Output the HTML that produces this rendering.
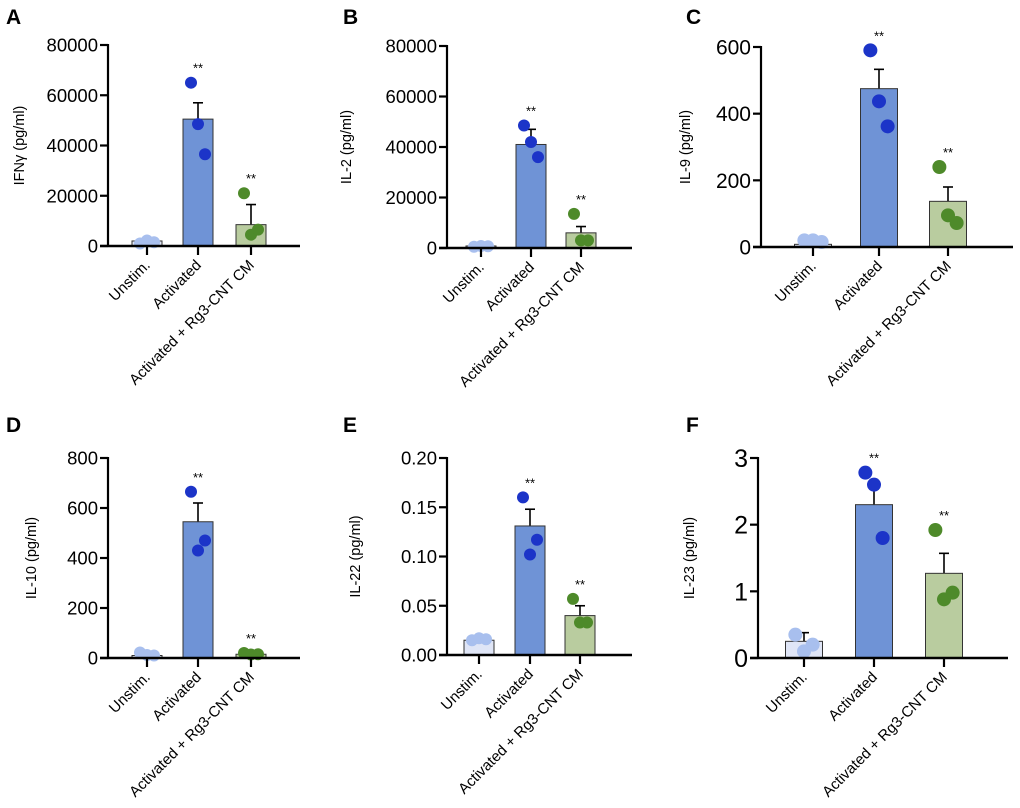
<!DOCTYPE html>
<html><head><meta charset="utf-8">
<style>
html,body{margin:0;padding:0;background:#fff;}
svg{display:block;font-family:"Liberation Sans",Arial,sans-serif;}
</style></head>
<body>
<svg id="fig" width="1020" height="808" viewBox="0 0 1020 808" xmlns="http://www.w3.org/2000/svg"></svg>
<script>
// ---- data ----
const categories = ["Unstim.", "Activated", "Activated + Rg3-CNT CM"];
const panelLetters = ["A","B","C","D","E","F"];
const yTitles = ["IFNγ (pg/ml)","IL-2 (pg/ml)","IL-9 (pg/ml)","IL-10 (pg/ml)","IL-22 (pg/ml)","IL-23 (pg/ml)"];
const yMax = [80000, 80000, 600, 800, 0.20, 3];
const tickValues = [
  [0,20000,40000,60000,80000],
  [0,20000,40000,60000,80000],
  [0,200,400,600],
  [0,200,400,600,800],
  [0,0.05,0.10,0.15,0.20],
  [0,1,2,3]
];
const tickLabels = [
  ["0","20000","40000","60000","80000"],
  ["0","20000","40000","60000","80000"],
  ["0","200","400","600"],
  ["0","200","400","600","800"],
  ["0.00","0.05","0.10","0.15","0.20"],
  ["0","1","2","3"]
];
const means = [
  [2000, 50500, 8500],
  [800, 41000, 6000],
  [8, 475, 137],
  [10, 545, 15],
  [0.015, 0.131, 0.040],
  [0.25, 2.30, 1.27]
];
const sems = [
  [300, 6500, 8000],
  [200, 6000, 2500],
  [2, 58, 43],
  [3, 75, 4],
  [0.001, 0.017, 0.010],
  [0.13, 0.25, 0.30]
];
const points = [
  [[1000,2200,1500],[65000,48500,36500],[21000,4500,6500]],
  [[500,800,700],[48500,42000,36000],[13500,3000,3000]],
  [[20,20,15],[590,437,362],[240,95,72]],
  [[22,12,10],[665,430,470],[20,14,15]],
  [[0.015,0.017,0.016],[0.160,0.102,0.117],[0.057,0.033,0.033]],
  [[0.35,0.10,0.20],[2.78,2.60,1.80],[1.92,0.88,0.98]]
];
const significance = [
  ["", "**", "**"],["", "**", "**"],["", "**", "**"],
  ["", "**", "**"],["", "**", "**"],["", "**", "**"]
];

// ---- layout (pixels) ----
const layout = [
  {ax:108, y0:246, yt:45, bars:[147,198,251], bw:30, xe:300, lx:6, ly:24, tf:18.5, tx:20},
  {ax:447, y0:248, yt:46, bars:[481,531,581], bw:30, xe:632, lx:343, ly:24, tf:18.5, tx:347},
  {ax:761, y0:247, yt:47, bars:[813,879,948], bw:37, xe:1013, lx:686, ly:24, tf:21, tx:686},
  {ax:108, y0:658, yt:458, bars:[147,198,251], bw:30, xe:300, lx:6, ly:432, tf:18.5, tx:32},
  {ax:447, y0:655, yt:458, bars:[479,530,580], bw:30, xe:632, lx:343, ly:432, tf:18.5, tx:356},
  {ax:758, y0:658, yt:458, bars:[804,874,944], bw:37, xe:1008, lx:686, ly:432, tf:25, tx:690}
];
const barFill = ["#dfe5f6","#6f93d6","#b9cc9f"];
const dotFill = ["#a8bfee","#1c34c8","#4e8a2a"];
const jitter = [-7, 0, 7];
const names = ["unstim","activated","rg3-cnt-cm"];

const NS = "http://www.w3.org/2000/svg";
const svg = document.getElementById("fig");
function mk(tag, attrs, parent){
  const e = document.createElementNS(NS, tag);
  for (const k in attrs) e.setAttribute(k, attrs[k]);
  (parent||svg).appendChild(e);
  return e;
}

for (let p=0; p<6; p++){
  const L = layout[p];
  const g = mk("g", {});
  
  
  const yScale = v => L.y0 - (v / yMax[p]) * (L.y0 - L.yt);

  const letter = mk("text", {x:L.lx, y:L.ly, "font-size":21, "font-weight":"bold", fill:"#000"}, g);
  letter.textContent = panelLetters[p];
  
  

  for (let c=0; c<3; c++){
    const cx = L.bars[c];
    const m = means[p][c], s = sems[p][c];
    const ytop = yScale(m);
    const eb = mk("line", {x1:cx, x2:cx, y1:ytop, y2:yScale(m+s), stroke:"#000", "stroke-width":1.6}, g);
    
    
    const cap = mk("line", {x1:cx-5, x2:cx+5, y1:yScale(m+s), y2:yScale(m+s), stroke:"#000", "stroke-width":1.6}, g);
    
    
    const bar = mk("rect", {x:cx-L.bw/2, y:ytop, width:L.bw, height:Math.max(0.5, L.y0-ytop), fill:barFill[c], stroke:"#333", "stroke-width":1}, g);
    
    
    for (let k=0; k<3; k++){
      const dot = mk("circle", {cx:cx+jitter[k]*(L.bw/30), cy:yScale(points[p][c][k]), r:L.bw>32?7:6, fill:dotFill[c]}, g);
      
      
    }
    if (significance[p][c]){
      const maxv = Math.max(m+s, ...points[p][c]);
      const st = mk("text", {x:cx, y:yScale(maxv)-10, "font-size":13, "text-anchor":"middle", fill:"#000"}, g);
      st.textContent = significance[p][c];
      
      
    }
    const xt = mk("line", {x1:cx, x2:cx, y1:L.y0, y2:L.y0+9, stroke:"#000", "stroke-width":2.2}, g);
    
    
    const ax = cx+4, ay = L.y0+20;
    const xl = mk("text", {x:ax, y:ay, "font-size":15, "text-anchor":"end", fill:"#000",
      transform:"rotate(-45 "+ax+" "+ay+")"}, g);
    xl.textContent = categories[c];
    
    
  }

  const ya = mk("line", {x1:L.ax, x2:L.ax, y1:L.yt-1, y2:L.y0+1, stroke:"#000", "stroke-width":2.2}, g);
  
  
  const xa = mk("line", {x1:L.ax-8, x2:L.xe, y1:L.y0, y2:L.y0, stroke:"#000", "stroke-width":2.4}, g);
  
  
  for (let t=0; t<tickValues[p].length; t++){
    const ty = yScale(tickValues[p][t]);
    const tk = mk("line", {x1:L.ax-8, x2:L.ax, y1:ty, y2:ty, stroke:"#000", "stroke-width":2.2}, g);
    
    
    const tl = mk("text", {x:L.ax-10, y:ty+L.tf*0.36, "font-size":L.tf, "text-anchor":"end", fill:"#000"}, g);
    tl.textContent = tickLabels[p][t];
    
    
  }
  const my = (L.y0+L.yt)/2;
  const yt = mk("text", {x:L.tx, y:my, "font-size":14.5, "text-anchor":"middle", fill:"#000",
    transform:"rotate(-90 "+L.tx+" "+my+")", "dominant-baseline":"middle"}, g);
  yt.textContent = yTitles[p];
  
  
}
</script>
</body></html>
